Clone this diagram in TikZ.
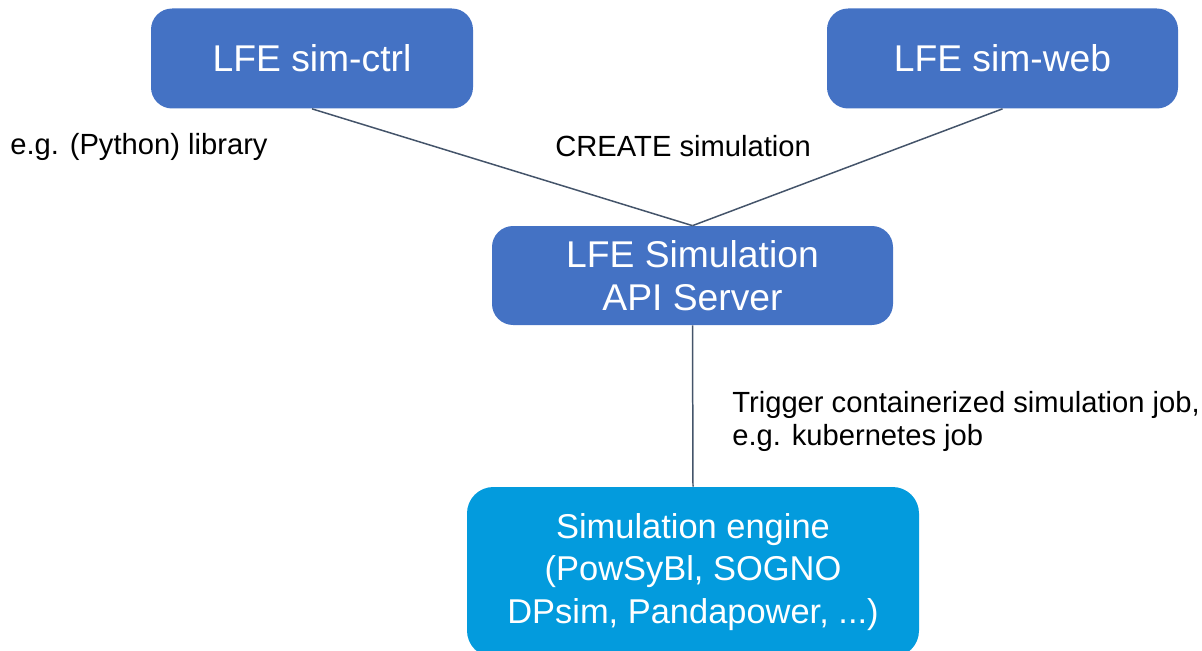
\documentclass[tikz,border=0pt]{standalone}
\usepackage{fontspec}
\setmainfont{Liberation Sans}
\usepackage{xcolor}
\usetikzlibrary{positioning}
\definecolor{lfeblue}{HTML}{4472C4}
\definecolor{enginecol}{HTML}{039BDD}
\definecolor{linkcol}{HTML}{44546A}

\begin{document}
\begin{tikzpicture}[
  box/.style={rounded corners=12pt, fill=lfeblue, text=white, inner sep=0pt,
    font=\fontsize{21.2}{24.2}\selectfont, align=center},
  enginebox/.style={box, fill=enginecol, rounded corners=15pt,
    font=\fontsize{19.6}{24}\selectfont},
  lbl/.style={anchor=west, inner sep=0pt, font=\fontsize{16.6}{19}\selectfont, align=left},
  link/.style={draw=linkcol, line width=0.85pt}
]
  \useasboundingbox (0,0) rectangle (24.04,-13.02);
  \clip (0,0) rectangle (24.04,-13.02);

  % Clients
  \node[box, minimum width=6.44cm, minimum height=2.0cm] (ctrl) at (6.24,-1.17) {LFE sim-ctrl};
  \node[box, minimum width=7.02cm, minimum height=2.0cm] (web) at (20.05,-1.17) {LFE sim-web};

  % Server and engine
  \node[box, minimum width=8.02cm, minimum height=1.98cm] (api) at (13.85,-5.51) {LFE Simulation\\API Server};
  \node[enginebox, minimum width=9.04cm, minimum height=3.4cm] (engine) at (13.86,-11.44)
    {Simulation engine\\(PowSyBl, SOGNO\\DPsim, Pandapower, ...)};

  \draw[link] (ctrl.south) -- (api.north);
  \draw[link] (web.south) -- (api.north);
  \draw[link] (api.south) -- (engine.north);

  % Labels
  \node[lbl] (lblpy) at (0.2,-2.93) {e.g. (Python) library};
  \node[lbl] (lblcreate) at (11.1,-2.93) {CREATE simulation};
  \node[lbl] (lbltrigger) at (14.64,-8.43) {Trigger containerized simulation job,\\e.g. kubernetes job};
\end{tikzpicture}
\end{document}
